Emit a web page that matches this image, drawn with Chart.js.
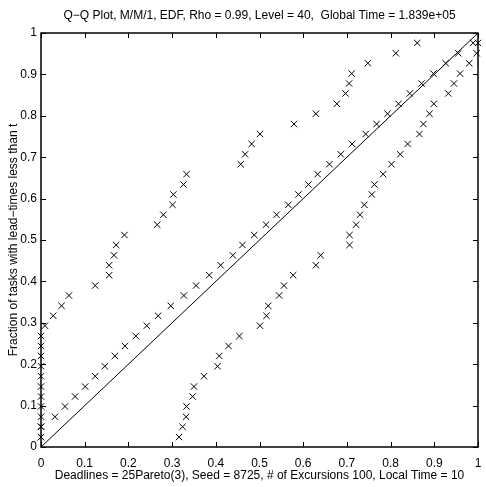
<!DOCTYPE html>
<html lang="en">
<head>
    <meta charset="UTF-8" />
    <title>Q-Q Plot</title>
    <script src="https://cdn.jsdelivr.net/npm/chart.js"></script>
    <style>
        html, body { margin: 0; padding: 0; background: #fff; }
        canvas { display: block; }
    </style>
</head>
<body>
    <canvas id="qqCanvas" width="486" height="487"></canvas>
    <script>
        // fraction levels (k/41), shared by all three groups
        const yLevels = [0.024, 0.049, 0.073, 0.098, 0.122, 0.146, 0.171, 0.195, 0.220, 0.244,
            0.268, 0.293, 0.317, 0.341, 0.366, 0.390, 0.415, 0.439, 0.463, 0.488,
            0.512, 0.537, 0.561, 0.585, 0.610, 0.634, 0.659, 0.683, 0.707, 0.732,
            0.756, 0.780, 0.805, 0.829, 0.854, 0.878, 0.902, 0.927, 0.951, 0.976];

        // upper group (far above the diagonal)
        const upperX = [0, 0, 0, 0, 0, 0, 0, 0, 0, 0,
            0, 0.009, 0.028, 0.047, 0.064, 0.124, 0.156, 0.156, 0.167, 0.172,
            0.191, 0.266, 0.280, 0.301, 0.303, 0.326, 0.333, 0.457, 0.467, 0.482,
            0.501, 0.579, 0.629, 0.677, 0.697, 0.705, 0.711, 0.748, 0.812, 0.861];

        // middle group (just above the diagonal)
        const middleX = [0, 0, 0.032, 0.055, 0.078, 0.101, 0.124, 0.146, 0.169, 0.192,
            0.217, 0.242, 0.268, 0.297, 0.327, 0.355, 0.385, 0.411, 0.439, 0.461,
            0.488, 0.515, 0.539, 0.566, 0.589, 0.612, 0.633, 0.660, 0.686, 0.712,
            0.743, 0.768, 0.793, 0.818, 0.844, 0.871, 0.898, 0.926, 0.955, 0.989];

        // lower group (below the diagonal)
        const lowerX = [0.316, 0.324, 0.332, 0.333, 0.347, 0.350, 0.373, 0.404, 0.408, 0.429,
            0.454, 0.501, 0.516, 0.520, 0.545, 0.556, 0.577, 0.629, 0.640, 0.706,
            0.706, 0.721, 0.730, 0.740, 0.757, 0.763, 0.783, 0.802, 0.822, 0.839,
            0.866, 0.875, 0.889, 0.899, 0.932, 0.945, 0.959, 0.980, 0.997, 1.0];

        const tickValues = [0, 0.1, 0.2, 0.3, 0.4, 0.5, 0.6, 0.7, 0.8, 0.9, 1];
        const tickLabels = ["0", "0.1", "0.2", "0.3", "0.4", "0.5", "0.6", "0.7", "0.8", "0.9", "1"];

        const titleText = "Q\u2212Q Plot, M/M/1, EDF, Rho = 0.99, Level = 40,  Global Time = 1.839e+05";
        const xTitle = "Deadlines = 25Pareto(3), Seed = 8725, # of Excursions 100, Local Time = 10";
        const yTitle = "Fraction of tasks with lead\u2212times less than t";

        const FONT = "'Liberation Sans', Arial, sans-serif";

        function toPoints(xs) {
            return xs.map((x, i) => ({ x: x, y: yLevels[i] }));
        }

        function pointSet(xs) {
            return {
                type: "scatter",
                data: toPoints(xs),
                pointStyle: "crossRot",
                pointRadius: 4.5,
                pointBorderWidth: 1,
                borderColor: "#000",
                backgroundColor: "#000",
                showLine: false,
                clip: false,
            };
        }

        // title over the plot box, inward ticks and the top/right frame
        const boxPlugin = {
            id: "box",
            afterDraw(chart) {
                const ctx = chart.ctx;
                const a = chart.chartArea;
                const xs = chart.scales.x;
                const ys = chart.scales.y;
                ctx.save();
                ctx.strokeStyle = "#000";
                ctx.lineWidth = 1;
                ctx.beginPath();
                tickValues.forEach((v) => {
                    const px = Math.round(xs.getPixelForValue(v)) + 0.5;
                    ctx.moveTo(px, a.bottom); ctx.lineTo(px, a.bottom - 5);
                    ctx.moveTo(px, a.top); ctx.lineTo(px, a.top + 5);
                    const py = Math.round(ys.getPixelForValue(v)) + 0.5;
                    ctx.moveTo(a.left, py); ctx.lineTo(a.left + 5, py);
                    ctx.moveTo(a.right, py); ctx.lineTo(a.right - 5, py);
                });
                ctx.stroke();
                ctx.lineWidth = 1.5;
                ctx.strokeRect(a.left, a.top, a.right - a.left, a.bottom - a.top);
                ctx.fillStyle = "#000";
                ctx.font = "12px " + FONT;
                ctx.textAlign = "center";
                ctx.textBaseline = "middle";
                ctx.fillText(titleText, (a.left + a.right) / 2, 16);
                ctx.restore();
            },
        };

        const ctx = document.getElementById("qqCanvas").getContext("2d");
        new Chart(ctx, {
            data: {
                datasets: [
                    pointSet(upperX),
                    pointSet(middleX),
                    pointSet(lowerX),
                    {
                        type: "line",
                        data: [{ x: 0, y: 0 }, { x: 1, y: 1 }],
                        borderColor: "#000",
                        borderWidth: 1,
                        pointRadius: 0,
                        fill: false,
                    },
                ],
            },
            options: {
                responsive: false,
                animation: false,
                devicePixelRatio: 1,
                layout: { padding: { top: 33, right: 8, left: 0, bottom: 0 } },
                plugins: {
                    legend: { display: false },
                    tooltip: { enabled: false },
                },
                scales: {
                    x: {
                        type: "linear",
                        min: 0,
                        max: 1,
                        afterFit: (s) => {
                            s.height = 40;
                            s.paddingLeft = 0;
                            s.paddingRight = 0;
                        },
                        afterBuildTicks: (s) => { s.ticks = tickValues.map((v) => ({ value: v })); },
                        ticks: {
                            callback: (v) => tickLabels[tickValues.indexOf(v)] ?? "",
                            color: "#000",
                            font: { family: FONT, size: 12 },
                            padding: 9,
                            maxRotation: 0,
                        },
                        grid: { display: false, drawTicks: false },
                        border: { display: false },
                        title: {
                            display: true,
                            text: xTitle,
                            color: "#000",
                            font: { family: FONT, size: 12 },
                            padding: { top: 0, bottom: 4 },
                        },
                    },
                    y: {
                        type: "linear",
                        min: 0,
                        max: 1,
                        afterFit: (s) => { s.width = 41; },
                        afterBuildTicks: (s) => { s.ticks = tickValues.map((v) => ({ value: v })); },
                        ticks: {
                            callback: (v) => tickLabels[tickValues.indexOf(v)] ?? "",
                            color: "#000",
                            font: { family: FONT, size: 12 },
                            padding: 4,
                        },
                        grid: { display: false, drawTicks: false },
                        border: { display: false },
                        title: {
                            display: true,
                            text: yTitle,
                            color: "#000",
                            font: { family: FONT, size: 12 },
                            padding: { top: 6, bottom: 0 },
                        },
                    },
                },
            },
            plugins: [boxPlugin],
        });
    </script>
</body>
</html>
